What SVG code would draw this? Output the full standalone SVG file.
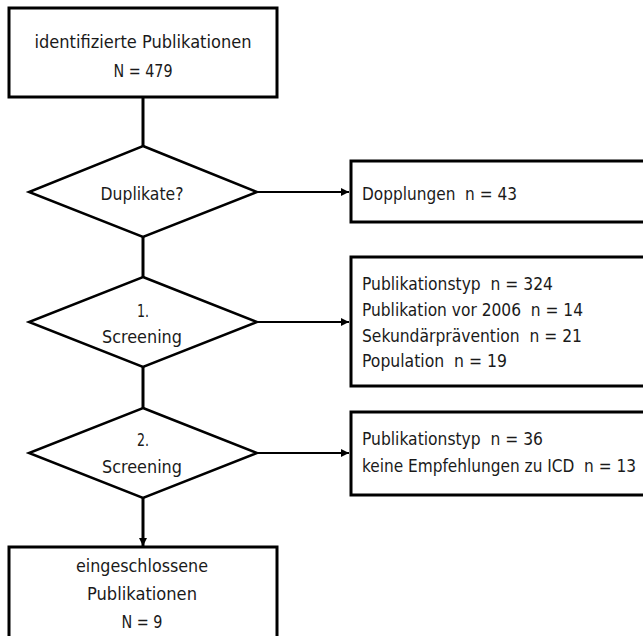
<svg xmlns="http://www.w3.org/2000/svg" width="643" height="636" viewBox="0 0 643 636">
<style>
.box{fill:#fff;stroke:#000;stroke-width:3}
.dia{fill:#fff;stroke:#000;stroke-width:2.5}
.ln{fill:none;stroke:#000;stroke-width:3}
.hl{fill:none;stroke:#000;stroke-width:2}
text{font-family:"DejaVu Sans Condensed","Liberation Sans Narrow","Liberation Sans",Arial,sans-serif;font-size:18.5px;fill:#1a1a1a}
.c{text-anchor:middle}
</style>
<defs>
<marker id="ah" markerWidth="10" markerHeight="10" refX="8" refY="4" orient="auto" markerUnits="userSpaceOnUse">
<path d="M0,0 L8,4 L0,8 Z" fill="#000"/>
</marker>
</defs>
<rect width="643" height="636" fill="#fff"/>
<g id="connectors">
<line class="ln" x1="143" y1="97" x2="143" y2="146"/>
<line class="ln" x1="143" y1="237" x2="143" y2="277"/>
<line class="ln" x1="143" y1="367" x2="143" y2="408"/>
<line class="ln" x1="143" y1="498" x2="143" y2="546" marker-end="url(#ah)"/>
<line class="hl" x1="257" y1="192" x2="349" y2="192" marker-end="url(#ah)"/>
<line class="hl" x1="257" y1="322" x2="349" y2="322" marker-end="url(#ah)"/>
<line class="hl" x1="257" y1="453" x2="349" y2="453" marker-end="url(#ah)"/>
</g>
<g id="n_identified">
<rect class="box" x="9" y="8" width="268" height="89"/>
<text class="c" x="143" y="48" textLength="217" lengthAdjust="spacingAndGlyphs">identifizierte Publikationen</text>
<text class="c" x="143" y="77" textLength="59" lengthAdjust="spacingAndGlyphs">N = 479</text>
</g>
<g id="n_duplicates">
<polygon class="dia" points="143,146 257,192 143,237 29,192"/>
<text class="c" x="142" y="200" textLength="83" lengthAdjust="spacingAndGlyphs">Duplikate?</text>
</g>
<g id="n_screening1">
<polygon class="dia" points="143,277 257,322 143,367 29,322"/>
<text class="c" x="143" y="317" textLength="12" lengthAdjust="spacingAndGlyphs">1.</text>
<text class="c" x="142" y="343" textLength="80" lengthAdjust="spacingAndGlyphs">Screening</text>
</g>
<g id="n_screening2">
<polygon class="dia" points="143,408 257,453 143,498 29,453"/>
<text class="c" x="143" y="446" textLength="12" lengthAdjust="spacingAndGlyphs">2.</text>
<text class="c" x="142" y="473" textLength="80" lengthAdjust="spacingAndGlyphs">Screening</text>
</g>
<g id="n_dopplungen">
<rect class="box" x="351" y="161" width="300" height="61"/>
<text x="362" y="200" xml:space="preserve" textLength="155" lengthAdjust="spacingAndGlyphs">Dopplungen  n = 43</text>
</g>
<g id="n_excl1">
<rect class="box" x="351" y="257" width="300" height="129"/>
<text x="362" y="290" xml:space="preserve" textLength="191" lengthAdjust="spacingAndGlyphs">Publikationstyp  n = 324</text>
<text x="362" y="316" xml:space="preserve" textLength="221" lengthAdjust="spacingAndGlyphs">Publikation vor 2006  n = 14</text>
<text x="362" y="342" xml:space="preserve" textLength="220" lengthAdjust="spacingAndGlyphs">Sekundärprävention  n = 21</text>
<text x="362" y="367" xml:space="preserve" textLength="145" lengthAdjust="spacingAndGlyphs">Population  n = 19</text>
</g>
<g id="n_excl2">
<rect class="box" x="351" y="412" width="300" height="83"/>
<text x="362" y="445" xml:space="preserve" textLength="181" lengthAdjust="spacingAndGlyphs">Publikationstyp  n = 36</text>
<text x="362" y="472" xml:space="preserve" textLength="274" lengthAdjust="spacingAndGlyphs">keine Empfehlungen zu ICD  n = 13</text>
</g>
<g id="n_included">
<rect class="box" x="9" y="547" width="268" height="100"/>
<text class="c" x="142" y="572" textLength="132" lengthAdjust="spacingAndGlyphs">eingeschlossene</text>
<text class="c" x="142" y="600" textLength="110" lengthAdjust="spacingAndGlyphs">Publikationen</text>
<text class="c" x="142" y="628" textLength="41" lengthAdjust="spacingAndGlyphs">N = 9</text>
</g>
</svg>
